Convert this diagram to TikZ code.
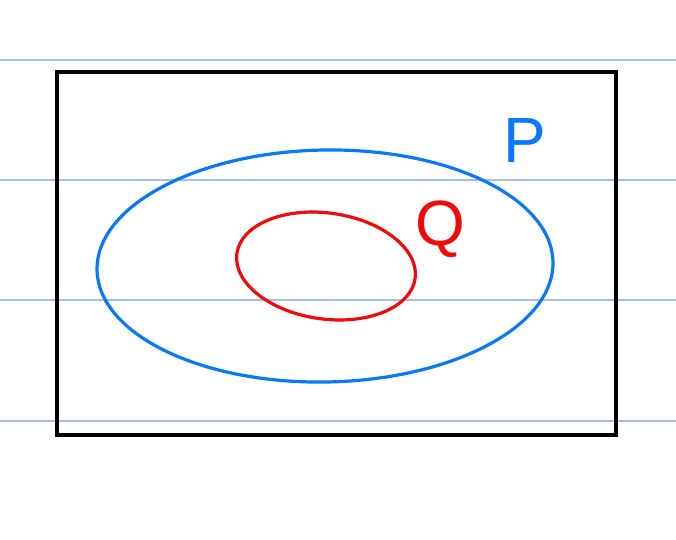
\documentclass[tikz,border=0pt]{standalone}
\usepackage{fontspec}
\setmainfont{Liberation Sans}
\usetikzlibrary{shapes.geometric}
\definecolor{gridblue}{RGB}{170,190,222}
\definecolor{setblue}{RGB}{10,120,250}
\definecolor{setred}{RGB}{240,10,10}
\tikzset{
  gridline/.style={gridblue, line width=1.2pt},
  frame/.style={black, line width=3.4pt},
  setP/.style={setblue, line width=3.2pt},
  setQ/.style={setred, line width=3.2pt},
  lab/.style={inner sep=0pt, font=\fontsize{64}{64}\selectfont}
}
\begin{document}
\begin{tikzpicture}[x=1pt,y=-1pt]
\useasboundingbox[fill=white] (0,0) rectangle (676,539);
\foreach \yy/\nm in {60/g1,180/g2,300/g3,421/g4}{
  \coordinate (\nm a) at (0,\yy);
  \coordinate (\nm b) at (676,\yy);
  \draw[gridline] (\nm a) -- (\nm b);
}
\node[frame, draw, rectangle, minimum width=559pt, minimum height=363pt, inner sep=0pt] (U) at (336.5,253.5) {};
\node[setP, draw, ellipse, minimum width=456pt, minimum height=232pt, inner sep=0pt, rotate=1] (P) at (325,266) {};
\node[setQ, draw, ellipse, minimum width=180pt, minimum height=106pt, inner sep=0pt, rotate=-8] (Q) at (326,266) {};
\node[lab, text=setblue] (Plab) at (525,140) {P};
\node[lab, text=setred] (Qlab) at (440,229) {Q};
\end{tikzpicture}
\end{document}
